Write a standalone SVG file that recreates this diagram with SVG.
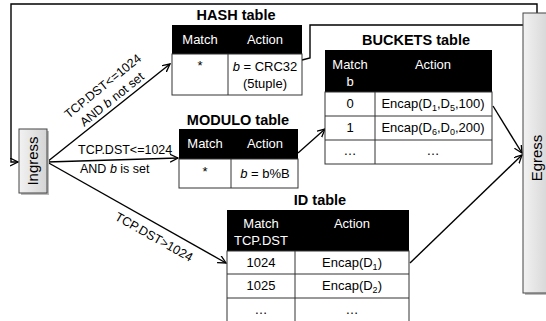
<svg xmlns="http://www.w3.org/2000/svg" width="546" height="321" viewBox="0 0 546 321">
<defs>
<linearGradient id="g" x1="0" y1="0" x2="1" y2="0">
<stop offset="0" stop-color="#f2f2f2"/><stop offset="1" stop-color="#d4d4d4"/>
</linearGradient>
<marker id="arr" markerUnits="userSpaceOnUse" markerWidth="10" markerHeight="10" refX="8" refY="4" orient="auto">
<path d="M0,0 L8,4 L0,8" fill="none" stroke="#000" stroke-width="1.3"/>
</marker>
</defs>
<style>
text{font-family:"Liberation Sans",Arial,sans-serif;fill:#000;}
.t{font-size:14.5px;font-weight:bold;text-anchor:middle;}
.h{font-size:13px;fill:#fff;text-anchor:middle;}
.c{font-size:13px;text-anchor:middle;}
.l{font-size:12.5px;}
.hd{fill:#000;}
.cell{fill:#fff;stroke:#333;stroke-width:1;}
.ln{stroke:#333;stroke-width:1;}
.con{fill:none;stroke:#000;stroke-width:1.4;}
.box{fill:url(#g);stroke:#444;stroke-width:1;}
</style>
<rect width="546" height="321" fill="#fff"/>

<g id="connectors">
<path class="con" d="M302,60 L310,58 L310,25 L537,25 L537,4 L11,4 L11,162 L18,162" marker-end="url(#arr)"/>
<line class="con" x1="47" y1="162" x2="170" y2="64" marker-end="url(#arr)"/>
<line class="con" x1="47" y1="162" x2="178" y2="158" marker-end="url(#arr)"/>
<line class="con" x1="47" y1="162" x2="226" y2="263" marker-end="url(#arr)"/>
<line class="con" x1="298" y1="153" x2="325" y2="129" marker-end="url(#arr)"/>
<line class="con" x1="493" y1="106" x2="522" y2="153" marker-end="url(#arr)"/>
<line class="con" x1="410" y1="263" x2="522" y2="155" marker-end="url(#arr)"/>
<g transform="translate(47,162) rotate(-38.8)">
<text class="l" x="91" y="-20" text-anchor="middle">TCP.DST&lt;=1024</text>
<text class="l" x="90" y="-4" text-anchor="middle">AND <tspan font-style="italic">b</tspan> not set</text>
</g>
<text class="l" x="78" y="154">TCP.DST&lt;=1024</text>
<text class="l" x="80" y="173">AND <tspan font-style="italic">b</tspan> is set</text>
<g transform="translate(47,162) rotate(29.4)">
<text class="l" x="130" y="17" text-anchor="middle">TCP.DST&gt;1024</text>
</g>
</g>

<g id="ingress">
<rect x="21" y="131" width="28" height="64" fill="#bbb"/>
<rect class="box" x="19" y="129" width="28" height="64"/>
<text transform="translate(38,161) rotate(-90)" font-size="15" text-anchor="middle">Ingress</text>
</g>

<g id="egress">
<rect x="525" y="15" width="25" height="280" fill="#bbb"/>
<rect class="box" x="523" y="13" width="28" height="280"/>
<text transform="translate(542,158) rotate(-90)" font-size="15" text-anchor="middle">Egress</text>
</g>

<g id="hash">
<text class="t" x="236" y="20">HASH table</text>
<rect class="hd" x="172" y="25" width="130" height="29"/>
<rect class="cell" x="172" y="54" width="130" height="41"/>
<line class="ln" x1="228" y1="54" x2="228" y2="95"/>
<text class="h" x="200" y="44">Match</text>
<text class="h" x="265" y="44">Action</text>
<text class="c" x="200" y="70">*</text>
<text class="c" x="265" y="71"><tspan font-style="italic">b</tspan> = CRC32</text>
<text class="c" x="265" y="88">(5tuple)</text>
</g>

<g id="modulo">
<text class="t" x="238" y="125">MODULO table</text>
<rect class="hd" x="179" y="129" width="119" height="30"/>
<rect class="cell" x="179" y="159" width="119" height="29"/>
<line class="ln" x1="231" y1="159" x2="231" y2="188"/>
<text class="h" x="205" y="148">Match</text>
<text class="h" x="265" y="148">Action</text>
<text class="c" x="205" y="176">*</text>
<text class="c" x="265" y="178"><tspan font-style="italic">b</tspan> = b%B</text>
</g>

<g id="buckets">
<text class="t" x="416" y="45">BUCKETS table</text>
<rect class="hd" x="325" y="50" width="167" height="42"/>
<rect class="cell" x="325" y="92" width="167" height="72"/>
<line class="ln" x1="325" y1="116" x2="492" y2="116"/>
<line class="ln" x1="325" y1="140" x2="492" y2="140"/>
<line class="ln" x1="375" y1="92" x2="375" y2="164"/>
<text class="h" x="350" y="69">Match</text>
<text class="h" x="350" y="86">b</text>
<text class="h" x="433" y="69">Action</text>
<text class="c" x="350" y="108">0</text>
<text class="c" x="433" y="108">Encap(D<tspan font-size="9" dy="3">1</tspan><tspan dy="-3">,D</tspan><tspan font-size="9" dy="3">5</tspan><tspan dy="-3">,100)</tspan></text>
<text class="c" x="350" y="132">1</text>
<text class="c" x="433" y="132">Encap(D<tspan font-size="9" dy="3">6</tspan><tspan dy="-3">,D</tspan><tspan font-size="9" dy="3">0</tspan><tspan dy="-3">,200)</tspan></text>
<text class="c" x="350" y="155">…</text>
<text class="c" x="433" y="155">…</text>
</g>

<g id="id">
<text class="t" x="320" y="205">ID table</text>
<rect class="hd" x="227" y="210" width="182" height="41"/>
<rect class="cell" x="227" y="251" width="182" height="75"/>
<line class="ln" x1="227" y1="274" x2="409" y2="274"/>
<line class="ln" x1="227" y1="298" x2="409" y2="298"/>
<line class="ln" x1="295" y1="251" x2="295" y2="321"/>
<text class="h" x="261" y="228">Match</text>
<text class="h" x="261" y="245">TCP.DST</text>
<text class="h" x="352" y="228">Action</text>
<text class="c" x="261" y="267">1024</text>
<text class="c" x="352" y="267">Encap(D<tspan font-size="9" dy="3">1</tspan><tspan dy="-3">)</tspan></text>
<text class="c" x="261" y="290">1025</text>
<text class="c" x="352" y="290">Encap(D<tspan font-size="9" dy="3">2</tspan><tspan dy="-3">)</tspan></text>
<text class="c" x="261" y="314">…</text>
<text class="c" x="352" y="314">…</text>
</g>
</svg>
